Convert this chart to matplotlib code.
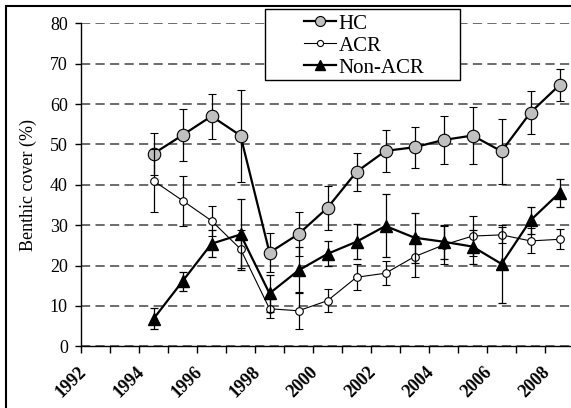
import matplotlib
matplotlib.use("Agg")
import matplotlib.pyplot as plt
from matplotlib.patches import Rectangle
from matplotlib.transforms import ScaledTranslation

plt.rcParams['font.family'] = ['Liberation Serif', 'DejaVu Serif']

# categories on the x axis (every year, labels on every second one)
all_years = list(range(1992, 2009))
tick_labels = ["1992", "1994", "1996", "1998", "2000", "2002", "2004", "2006", "2008"]

# surveyed years
years = list(range(1994, 2009))

hc = [47.7, 52.3, 57.0, 52.2, 23.2, 27.8, 34.3, 43.2, 48.4, 49.3, 51.1, 52.2, 48.3, 57.9, 64.7]
hc_err = [5.2, 6.5, 5.6, 11.4, 4.9, 5.5, 5.4, 4.8, 5.2, 5.1, 6.0, 7.0, 8.1, 5.3, 4.0]

acr = [41.0, 36.1, 31.1, 24.1, 9.3, 8.8, 11.3, 17.1, 18.1, 22.2, 25.1, 27.3, 27.6, 26.1, 26.5]
acr_err = [7.8, 6.2, 3.7, 4.8, 2.4, 4.6, 2.8, 3.2, 3.0, 5.0, 4.7, 4.9, 2.0, 3.1, 2.5]

non_acr = [6.8, 16.1, 25.4, 27.7, 13.1, 18.8, 22.9, 25.9, 29.8, 26.9, 25.9, 24.7, 20.4, 31.2, 38.0]
non_acr_err = [2.6, 2.4, 3.3, 8.8, 4.5, 5.7, 3.1, 4.4, 7.8, 6.2, 4.2, 4.2, 9.7, 3.4, 3.5]


def xpos(yrs):
  # category centres, one slot per year starting at 1992
  return [yr - all_years[0] + 0.5 for yr in yrs]


fig = plt.figure(figsize=(5.71, 4.08), dpi=100)
ax = fig.add_axes([81 / 571, 61.7 / 408, 493 / 571, 323 / 408])

# outer chart border (cropped on the right and bottom like the original)
fig.patches.append(Rectangle((5.5 / 571, -0.2), 1.2, 1.2 - 5.5 / 408,
                             transform=fig.transFigure, fill=False,
                             edgecolor="black", linewidth=1.5, zorder=0))

ax.set_xlim(0, len(all_years))
ax.set_ylim(0, 80)
ax.set_yticks(range(0, 81, 10))
ax.yaxis.grid(True, color="#444444", linestyle=(0, (6, 3.5)), linewidth=1.1)
ax.set_axisbelow(True)

for side in ["top", "right"]:
  ax.spines[side].set_visible(False)
ax.spines["left"].set_linewidth(1.0)
ax.spines["bottom"].set_linewidth(1.0)

ax.set_xticks(range(0, len(all_years) + 1), minor=True)
ax.set_xticks(xpos(range(1992, 2009, 2)))
ax.set_xticklabels(tick_labels, rotation=45, ha="right", va="center",
                   rotation_mode="anchor", fontsize=13, fontweight="bold")
ax.tick_params(axis="x", which="major", length=0, pad=16.5)
ax.tick_params(axis="x", which="minor", direction="out", length=5, width=1.0)
ax.tick_params(axis="y", direction="out", length=4, width=1.0, pad=5.5, labelsize=13)
for lab in ax.get_xticklabels():
  lab.set_transform(lab.get_transform() + ScaledTranslation(-12 / 100, 0, fig.dpi_scale_trans))

ax.set_ylabel("Benthic cover (%)", fontsize=13)
ax.yaxis.set_label_coords(-0.089, 0.5)

eb_style = dict(ecolor="black", elinewidth=0.9, capsize=3.2, capthick=0.9)

l_hc = ax.errorbar(xpos(years), hc, yerr=hc_err, color="black", linewidth=1.6,
                   marker="o", markersize=9, markerfacecolor="#c0c0c0",
                   markeredgecolor="black", markeredgewidth=0.8, zorder=3,
                   label="HC", **eb_style)
l_acr = ax.errorbar(xpos(years), acr, yerr=acr_err, color="black", linewidth=0.8,
                    marker="o", markersize=5.5, markerfacecolor="white",
                    markeredgecolor="black", markeredgewidth=0.8, zorder=4,
                    label="ACR", **eb_style)
l_non = ax.errorbar(xpos(years), non_acr, yerr=non_acr_err, color="black", linewidth=1.6,
                    marker="^", markersize=8.5, markerfacecolor="black",
                    markeredgecolor="black", zorder=5,
                    label="Non-ACR", **eb_style)

# legend box drawn separately so its padding matches the original
ax.add_patch(Rectangle((265 / 571, 1 - 80 / 408), 195 / 571, 71.3 / 408,
                       transform=fig.transFigure, facecolor="white",
                       edgecolor="black", linewidth=1.0, zorder=9, clip_on=False))

leg = ax.legend(handles=[l_hc[0], l_acr[0], l_non[0]], labels=["HC", "ACR", "Non-ACR"],
                loc="upper left", bbox_to_anchor=(304 / 571, 1 - 14 / 408),
                bbox_transform=fig.transFigure, frameon=False, fontsize=15,
                borderpad=0, borderaxespad=0, labelspacing=0.12,
                handlelength=1.55, handletextpad=0.1, markerscale=0.8)
leg.set_zorder(10)

fig.savefig("out.png", dpi=100)
plt.close(fig)
